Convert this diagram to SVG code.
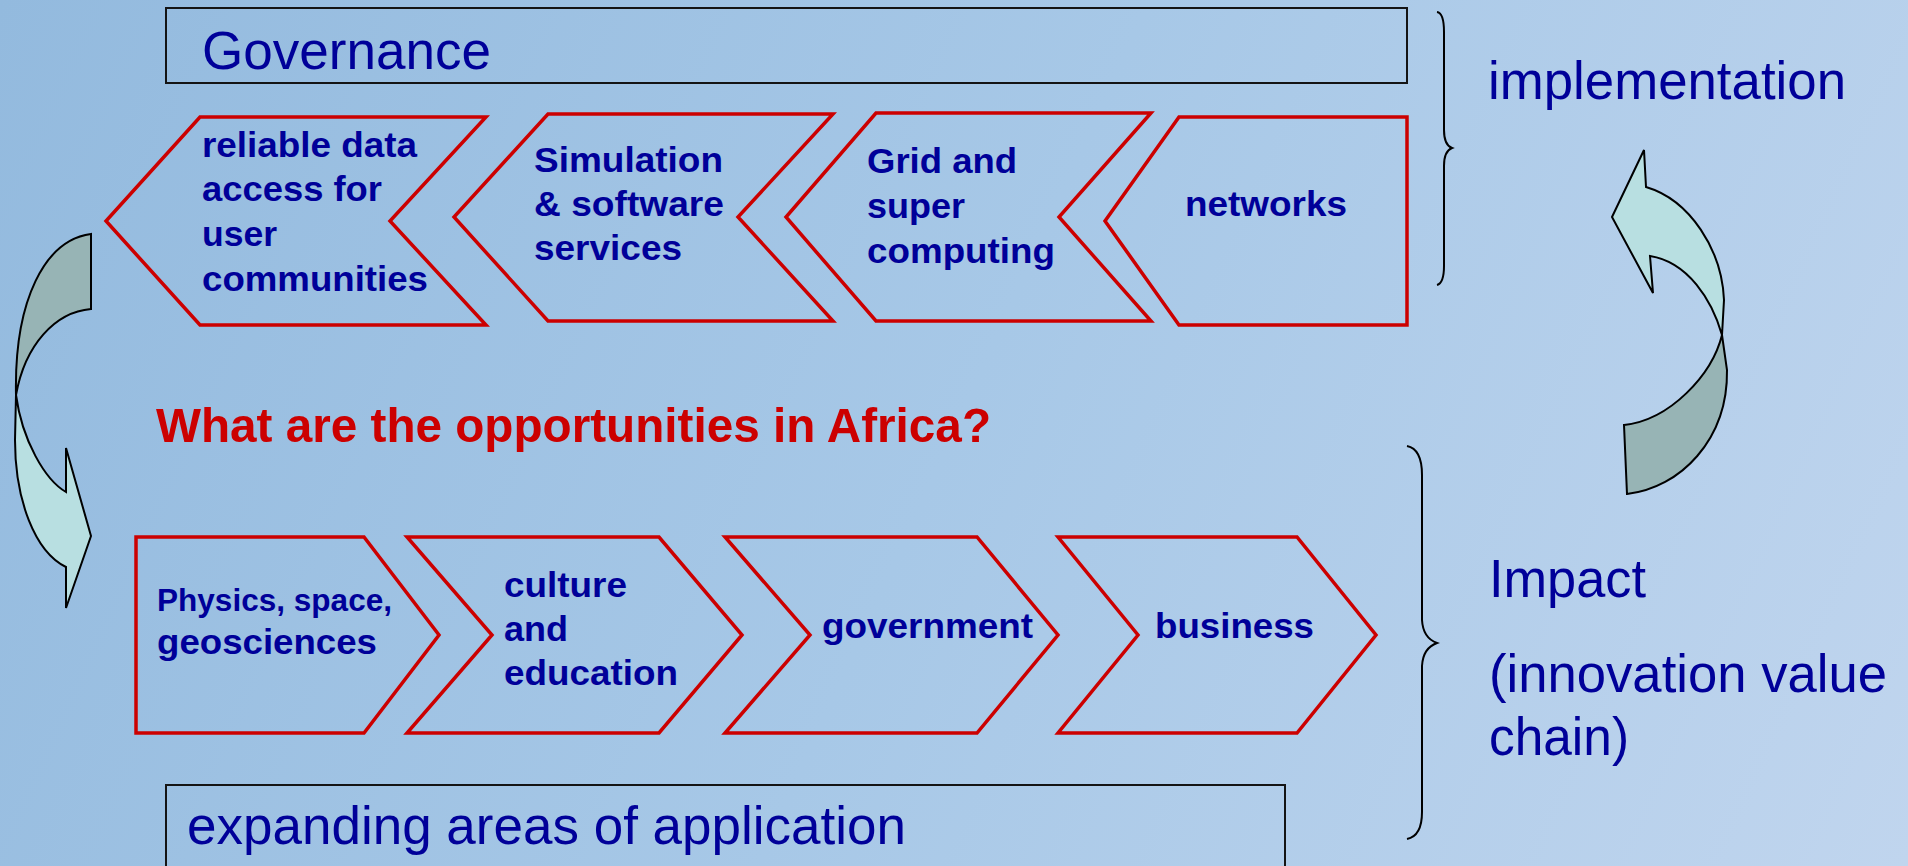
<svg xmlns="http://www.w3.org/2000/svg" width="1908" height="866" viewBox="0 0 1908 866">
<defs>
<linearGradient id="bg" x1="0" y1="0" x2="1908" y2="866" gradientUnits="userSpaceOnUse">
<stop offset="0" stop-color="#93bade"/>
<stop offset="0.5" stop-color="#a7c8e7"/>
<stop offset="1" stop-color="#c0d5ee"/>
</linearGradient>
<style>
.box{fill:none;stroke:#141414;stroke-width:2}
.chev{fill:none;stroke:#cc0000;stroke-width:3.5;stroke-linejoin:miter}
.lbl{font-family:"Liberation Sans",Arial,sans-serif;font-weight:bold;font-size:35px;fill:#000099}
.sm{font-size:31px}
.big{font-family:"Liberation Sans",Arial,sans-serif;font-size:53px;fill:#000099}
.q{font-family:"Liberation Sans",Arial,sans-serif;font-weight:bold;font-size:49px;fill:#cc0000}
.brace{fill:none;stroke:#000;stroke-width:2}
.arL{fill:#b8dfe1;stroke:#000;stroke-width:2;stroke-linejoin:miter}
.arD{fill:#97b4b5;stroke:#000;stroke-width:2}
</style>
</defs>
<rect x="0" y="0" width="1908" height="866" fill="url(#bg)"/>

<g id="governance">
<rect class="box" x="166" y="8" width="1241" height="75"/>
<text class="big" x="202" y="69" textLength="289" lengthAdjust="spacingAndGlyphs">Governance</text>
</g>

<g id="reliable-data">
<polygon class="chev" points="200,117 486,117 390,221 486,325 200,325 106,221"/>
<text class="lbl" x="202" y="157" textLength="215" lengthAdjust="spacingAndGlyphs">reliable data</text>
<text class="lbl" x="202" y="201" textLength="180" lengthAdjust="spacingAndGlyphs">access for</text>
<text class="lbl" x="202" y="246" textLength="75" lengthAdjust="spacingAndGlyphs">user</text>
<text class="lbl" x="202" y="291" textLength="226" lengthAdjust="spacingAndGlyphs">communities</text>
</g>

<g id="simulation">
<polygon class="chev" points="548,114 833,114 738,217 833,321 548,321 454,217"/>
<text class="lbl" x="534" y="172" textLength="189" lengthAdjust="spacingAndGlyphs">Simulation</text>
<text class="lbl" x="534" y="216" textLength="190" lengthAdjust="spacingAndGlyphs">&amp; software</text>
<text class="lbl" x="534" y="260" textLength="148" lengthAdjust="spacingAndGlyphs">services</text>
</g>

<g id="grid">
<polygon class="chev" points="876,113 1151,113 1059,217 1151,321 876,321 786,217"/>
<text class="lbl" x="867" y="173" textLength="150" lengthAdjust="spacingAndGlyphs">Grid and</text>
<text class="lbl" x="867" y="218" textLength="98" lengthAdjust="spacingAndGlyphs">super</text>
<text class="lbl" x="867" y="263" textLength="188" lengthAdjust="spacingAndGlyphs">computing</text>
</g>

<g id="networks">
<polygon class="chev" points="1179,117 1407,117 1407,325 1179,325 1105,221"/>
<text class="lbl" x="1185" y="216" textLength="162" lengthAdjust="spacingAndGlyphs">networks</text>
</g>

<g id="implementation">
<text class="big" x="1488" y="99" textLength="358" lengthAdjust="spacingAndGlyphs">implementation</text>
</g>

<g id="question">
<text class="q" x="156" y="442" textLength="835" lengthAdjust="spacingAndGlyphs">What are the opportunities in Africa?</text>
</g>

<g id="physics">
<polygon class="chev" points="136,537 364,537 439,635 364,733 136,733"/>
<text class="lbl sm" x="157" y="611" textLength="235" lengthAdjust="spacingAndGlyphs">Physics, space,</text>
<text class="lbl" x="157" y="654" textLength="220" lengthAdjust="spacingAndGlyphs">geosciences</text>
</g>

<g id="culture">
<polygon class="chev" points="407,537 659,537 742,635 659,733 407,733 492,635"/>
<text class="lbl" x="504" y="597" textLength="123" lengthAdjust="spacingAndGlyphs">culture</text>
<text class="lbl" x="504" y="641" textLength="64" lengthAdjust="spacingAndGlyphs">and</text>
<text class="lbl" x="504" y="685" textLength="174" lengthAdjust="spacingAndGlyphs">education</text>
</g>

<g id="government">
<polygon class="chev" points="725,537 977,537 1058,635 977,733 725,733 810,635"/>
<text class="lbl" x="822" y="638" textLength="211" lengthAdjust="spacingAndGlyphs">government</text>
</g>

<g id="business">
<polygon class="chev" points="1058,537 1297,537 1376,635 1297,733 1058,733 1138,635"/>
<text class="lbl" x="1155" y="638" textLength="159" lengthAdjust="spacingAndGlyphs">business</text>
</g>

<g id="expanding">
<rect class="box" x="166" y="785" width="1119" height="120"/>
<text class="big" x="187" y="844" textLength="719" lengthAdjust="spacingAndGlyphs">expanding areas of application</text>
</g>

<g id="impact">
<text class="big" x="1489" y="597" textLength="157" lengthAdjust="spacingAndGlyphs">Impact</text>
<text class="big" x="1489" y="692" textLength="398" lengthAdjust="spacingAndGlyphs">(innovation value</text>
<text class="big" x="1489" y="755" textLength="140" lengthAdjust="spacingAndGlyphs">chain)</text>
</g>

<g id="brace-top">
<path class="brace" d="M1437,12 Q1444,13 1444,32 L1444,130 Q1444,145 1452,148 Q1444,151 1444,166 L1444,266 Q1444,283 1437,285"/>
</g>
<g id="brace-bottom">
<path class="brace" d="M1407,446 Q1422,449 1422,475 L1422,620 Q1423,638 1437,643 Q1423,648 1422,666 L1422,812 Q1422,836 1407,839"/>
</g>

<g id="connectors">
<path class="arD" d="M91,234 C45,240 14,300 16,395 C25,345 55,312 91,309 Z"/>
<path class="arL" d="M16,395 C22,440 45,480 66,492 L66,448 L91,536 L66,608 L66,567 C35,552 15,500 15,440 Z"/>
<path class="arD" d="M1722,335 C1712,375 1670,420 1624,425 L1627,494 C1680,488 1728,440 1727,370 Z"/>
<path class="arL" d="M1646,187 L1644,150 L1612,217 L1653,293 L1650,256 C1688,262 1712,300 1722,335 L1724,300 C1722,250 1690,200 1646,187 Z"/>
</g>
</svg>
